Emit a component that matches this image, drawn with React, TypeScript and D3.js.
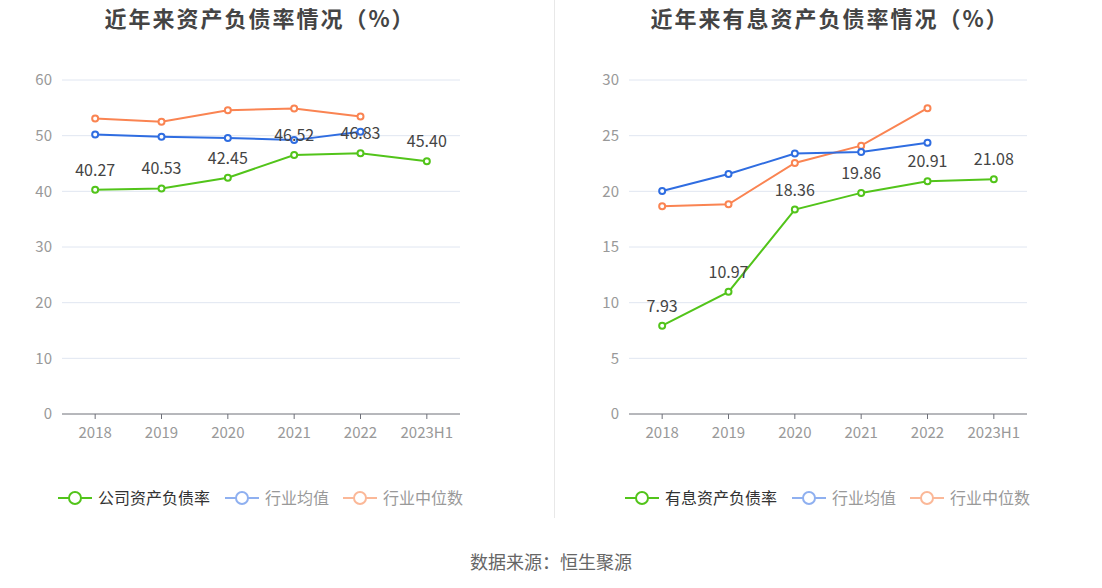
import React from "react";
import * as d3 from "d3";

const categories = ["2018", "2019", "2020", "2021", "2022", "2023H1"];

const leftCompany = [40.27, 40.53, 42.45, 46.52, 46.83, 45.4];
const leftAvg = [50.2, 49.8, 49.6, 49.2, 50.7];
const leftMedian = [53.1, 52.5, 54.55, 54.9, 53.45];
const leftTicks = [0, 10, 20, 30, 40, 50, 60];

const rightCompany = [7.93, 10.97, 18.36, 19.86, 20.91, 21.08];
const rightAvg = [20.03, 21.56, 23.39, 23.54, 24.37];
const rightMedian = [18.66, 18.84, 22.55, 24.1, 27.47];
const rightTicks = [0, 5, 10, 15, 20, 25, 30];

const GREEN = "#52c41a";
const BLUE = "#2f6de1";
const ORANGE = "#fa8452";
const FONT = "'Noto Sans CJK SC', 'Noto Sans', sans-serif";

type PanelProps = {
  x0: number;
  x1: number;
  title: string;
  titleX: number;
  company: number[];
  avg: number[];
  median: number[];
  ticks: number[];
  legendName: string;
  legendX: number;
};

function Panel(p: PanelProps) {
  const top = 80;
  const bottom = 414;
  const x = d3.scaleBand<string>().domain(categories).range([p.x0, p.x1]);
  const y = d3
    .scaleLinear()
    .domain([0, p.ticks[p.ticks.length - 1]])
    .range([bottom, top]);
  const cx = (i: number) => (x(categories[i]) as number) + x.bandwidth() / 2;
  const line = d3
    .line<number>()
    .x((_, i) => cx(i))
    .y((d) => y(d));

  const series = [
    { data: p.median, color: ORANGE },
    { data: p.avg, color: BLUE },
    { data: p.company, color: GREEN },
  ];

  const lx = p.legendX;
  const ly = 498;
  const legend = [
    { name: p.legendName, color: GREEN, text: "#333", x: lx },
    { name: "行业均值", color: "#8fb0f0", text: "#999", x: lx + 167 },
    { name: "行业中位数", color: "#fbb898", text: "#999", x: lx + 285 },
  ];

  return (
    <g>
      <text
        x={p.titleX}
        y={27}
        textAnchor="middle"
        fontSize={22}
        letterSpacing={2}
        fontWeight="bold"
        fill="#444"
        fontFamily={FONT}
      >
        {p.title}
      </text>
      {p.ticks.map((t) => (
        <g key={t}>
          {t !== 0 && (
            <line x1={p.x0} x2={p.x1} y1={y(t)} y2={y(t)} stroke="#e0e6f1" strokeWidth={1} />
          )}
          <text
            x={p.x0 - 10}
            y={y(t)}
            dy="0.35em"
            textAnchor="end"
            fontSize={15}
            fill="#999"
            fontFamily={FONT}
          >
            {t}
          </text>
        </g>
      ))}
      <line x1={p.x0} x2={p.x1} y1={bottom} y2={bottom} stroke="#6e7079" strokeWidth={1} />
      {categories.map((c, i) => (
        <g key={c}>
          <line x1={cx(i)} x2={cx(i)} y1={bottom} y2={bottom + 5} stroke="#6e7079" />
          <text
            x={cx(i)}
            y={bottom + 24}
            textAnchor="middle"
            fontSize={15}
            fill="#999"
            fontFamily={FONT}
          >
            {c}
          </text>
        </g>
      ))}
      {series.map((s, si) => (
        <g key={si}>
          <path d={line(s.data) || ""} fill="none" stroke={s.color} strokeWidth={2} />
          {s.data.map((v, i) => (
            <circle key={i} cx={cx(i)} cy={y(v)} r={3} fill="#fff" stroke={s.color} strokeWidth={2} />
          ))}
        </g>
      ))}
      {p.company.map((v, i) => (
        <text
          key={i}
          x={cx(i)}
          y={y(v) - 14}
          textAnchor="middle"
          fontSize={16}
          fill="#444"
          fontFamily={FONT}
        >
          {v.toFixed(2)}
        </text>
      ))}
      {legend.map((l) => (
        <g key={l.name}>
          <line x1={l.x} x2={l.x + 34} y1={ly} y2={ly} stroke={l.color} strokeWidth={2} />
          <circle cx={l.x + 17} cy={ly} r={6} fill="#fff" stroke={l.color} strokeWidth={2} />
          <text
            x={l.x + 40}
            y={ly}
            dy="0.35em"
            fontSize={16}
            fill={l.text}
            fontFamily={FONT}
          >
            {l.name}
          </text>
        </g>
      ))}
    </g>
  );
}

export default function App() {
  return (
    <svg
      width={1102}
      height={588}
      style={{ position: "absolute", left: 0, top: 0, background: "#fff" }}
    >
      <rect width={1102} height={588} fill="#fff" />
      <Panel
        x0={62}
        x1={460}
        title="近年来资产负债率情况（%）"
        titleX={260}
        company={leftCompany}
        avg={leftAvg}
        median={leftMedian}
        ticks={leftTicks}
        legendName="公司资产负债率"
        legendX={58}
      />
      <Panel
        x0={629}
        x1={1027}
        title="近年来有息资产负债率情况（%）"
        titleX={830}
        company={rightCompany}
        avg={rightAvg}
        median={rightMedian}
        ticks={rightTicks}
        legendName="有息资产负债率"
        legendX={625}
      />
      <line x1={554.5} x2={554.5} y1={0} y2={518} stroke="#e8e8e8" strokeWidth={1} />
      <text
        x={551}
        y={569}
        textAnchor="middle"
        fontSize={18}
        fill="#666"
        fontFamily={FONT}
      >
        数据来源：恒生聚源
      </text>
    </svg>
  );
}
